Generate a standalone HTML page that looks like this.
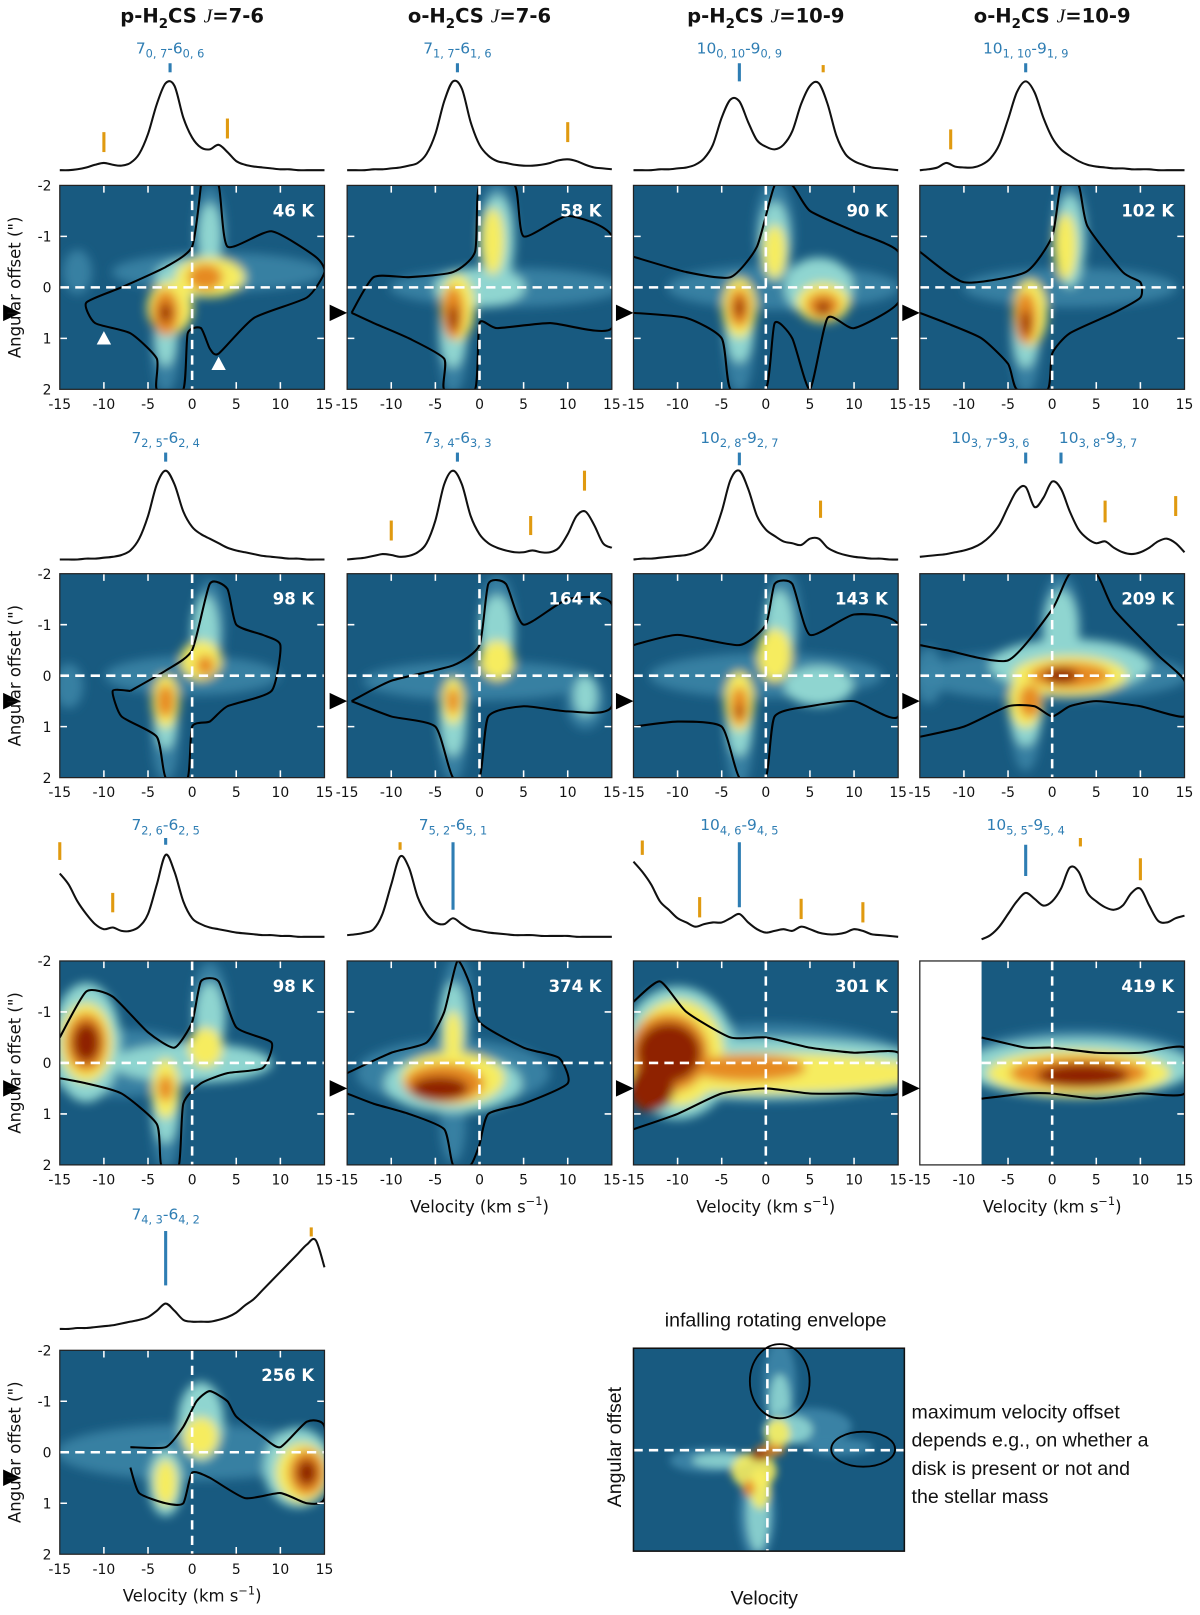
<!DOCTYPE html>
<html><head><meta charset="utf-8"><style>
html,body{margin:0;padding:0;background:#fff;}
svg{display:block;font-family:"DejaVu Sans","Liberation Sans",sans-serif;}
</style></head><body>
<svg id="fig" width="1200" height="1615" viewBox="0 0 1165 1568" xmlns="http://www.w3.org/2000/svg">
<defs>
<filter id="blur" x="-50%" y="-50%" width="200%" height="200%"><feGaussianBlur stdDeviation="5"/></filter>
<filter id="blur2" x="-50%" y="-50%" width="200%" height="200%"><feGaussianBlur stdDeviation="4"/></filter>
</defs>
<g id="root"></g>
</svg>
<script>
// ---------- data ----------
const colTitles = [["p-H","2","CS ","J","=7-6"],["o-H","2","CS ","J","=7-6"],["p-H","2","CS ","J","=10-9"],["o-H","2","CS ","J","=10-9"]];
const temps = ["46 K","58 K","90 K","102 K","98 K","164 K","143 K","209 K","98 K","374 K","301 K","419 K","256 K"];
const lineLabels = [
 [["7","0, 7","-6","0, 6"]],[["7","1, 7","-6","1, 6"]],[["10","0, 10","-9","0, 9"]],[["10","1, 10","-9","1, 9"]],
 [["7","2, 5","-6","2, 4"]],[["7","3, 4","-6","3, 3"]],[["10","2, 8","-9","2, 7"]],[["10","3, 7","-9","3, 6"],["10","3, 8","-9","3, 7"]],
 [["7","2, 6","-6","2, 5"]],[["7","5, 2","-6","5, 1"]],[["10","4, 6","-9","4, 5"]],[["10","5, 5","-9","5, 4"]],
 [["7","4, 3","-6","4, 2"]]
];
const labelVel = [[-2.5],[-2.5],[-3],[-3],[-3],[-2.5],[-3],[-7,5.2],[-3],[-3],[-3],[-3],[-3]];
const xTicks = [-15,-10,-5,0,5,10,15];
const yTicks = [-2,-1,0,1,2];
const specVel = [-15,-14,-13,-12,-11,-10,-9,-8,-7,-6,-5,-4,-3,-2,-1,0,1,2,3,4,5,6,7,8,9,10,11,12,13,14,15];
const spectra = [
 [.02,.02,.03,.05,.08,.1,.08,.07,.1,.2,.42,.75,.98,.95,.6,.38,.27,.25,.3,.22,.12,.08,.06,.05,.04,.03,.03,.02,.02,.02,.02],
 [.02,.02,.02,.03,.03,.04,.05,.07,.1,.2,.42,.78,1,.92,.55,.3,.18,.12,.1,.08,.07,.07,.08,.1,.13,.14,.12,.08,.05,.04,.03],
 [.02,.02,.02,.03,.03,.04,.05,.08,.15,.3,.6,.8,.78,.55,.35,.28,.25,.3,.45,.75,.95,.98,.75,.4,.2,.12,.08,.05,.04,.03,.02],
 [.02,.03,.05,.1,.06,.05,.05,.08,.15,.3,.58,.88,1,.88,.6,.38,.25,.18,.12,.08,.06,.05,.04,.04,.03,.03,.03,.02,.02,.02,.02],
 [.02,.02,.02,.03,.03,.04,.05,.07,.12,.25,.5,.85,1,.85,.55,.38,.3,.25,.2,.15,.12,.1,.08,.06,.05,.04,.03,.03,.02,.02,.02],
 [.02,.03,.04,.06,.08,.07,.05,.06,.1,.2,.45,.85,1,.85,.5,.3,.2,.15,.12,.1,.1,.12,.1,.1,.15,.3,.5,.55,.4,.2,.15],
 [.02,.03,.03,.04,.05,.06,.07,.1,.15,.28,.55,.9,1,.8,.5,.35,.28,.22,.2,.18,.25,.25,.15,.1,.07,.05,.04,.03,.03,.02,.02],
 [.05,.06,.07,.08,.1,.12,.15,.2,.28,.4,.6,.78,.82,.6,.7,.88,.8,.55,.35,.25,.2,.22,.15,.1,.08,.1,.15,.22,.25,.2,.1],
 [.78,.65,.45,.3,.18,.12,.14,.1,.1,.15,.3,.65,1,.8,.45,.25,.18,.14,.12,.1,.08,.07,.06,.05,.05,.04,.04,.03,.03,.03,.03],
 [.05,.06,.08,.12,.3,.65,.98,.85,.5,.3,.2,.18,.25,.18,.12,.1,.08,.07,.06,.05,.05,.05,.04,.04,.04,.04,.03,.03,.03,.03,.03],
 [.92,.8,.65,.45,.35,.25,.2,.15,.18,.2,.2,.25,.3,.2,.12,.08,.1,.12,.1,.15,.12,.08,.06,.06,.08,.12,.1,.06,.05,.04,.03],
 [null,null,null,null,null,null,null,.0,.05,.15,.3,.45,.55,.48,.4,.45,.6,.85,.8,.55,.45,.38,.35,.4,.55,.6,.4,.22,.2,.25,.28],
 [.02,.02,.03,.03,.04,.05,.06,.08,.1,.12,.15,.22,.3,.22,.12,.1,.1,.1,.12,.15,.2,.28,.35,.45,.55,.65,.75,.85,.95,1,.7]
];
const blueMarks = [
 [[-2.5,1.2,1.1]],[[-2.5,1.2,1.1]],[[-3,1.2,1.0]],[[-3,1.2,1.1]],
 [[-3,1.2,1.1]],[[-2.5,1.2,1.1]],[[-3,1.2,1.06]],[[-3,1.2,1.08],[1,1.2,1.08]],
 [[-3,1.2,1.12]],[[-3,1.15,0.35]],[[-3,1.15,0.38]],[[-3,1.12,0.75]],
 [[-3,1.1,0.5]]
];
const orangeMarks = [
 [[-10,0.44,0.22],[4,0.59,0.37]],[[10,0.55,0.33]],[[6.5,1.18,1.1]],[[-11.5,0.47,0.25]],
 [],[[-10,0.45,0.23],[5.8,0.5,0.29],[11.9,1.0,0.78]],[[6.2,0.67,0.48]],[[6,0.67,0.43],[14,0.72,0.5]],
 [[-15,1.15,0.94],[-9,0.55,0.32]],[[-9,1.15,1.06]],[[-14,1.17,1.0],[-7.5,0.5,0.26],[4,0.48,0.24],[11,0.44,0.2]],[[3.2,1.2,1.1],[10,0.96,0.7]],
 [[13.5,1.14,1.04]]
];
// heatmap blobs: [vel, offset, halfWidthVel, halfHeightOffset, level]
const blobs = [
 [[3,-0.3,11,0.35,0],[2,-1.1,1.6,0.8,0],[-3,1.2,1.4,0.8,0],[-13,-0.3,1.5,0.4,0],[1,-0.2,4,0.3,1],[2,-1,1,0.5,1],[-3,0.9,1,0.5,1],[-2.5,0.4,2,0.4,2],[2,-0.2,3,0.3,2],[-3,0.5,1.2,0.35,3],[1.5,-0.2,1.5,0.2,3],[-3,0.5,0.5,0.15,4]],
 [[3,0,12,0.35,0],[2,-1.2,1.8,0.8,0],[-3,1.1,1.5,0.9,0],[2,-0.9,1.5,0.7,1],[-3,0.8,1.2,0.6,1],[0,0,4,0.3,1],[1.5,-0.9,1,0.5,2],[-2.5,0.4,1.5,0.5,2],[-3,0.5,1,0.4,3],[-3,0.6,0.4,0.2,4]],
 [[2,0,12,0.4,0],[1,-1.1,2,0.9,0],[-3,1.1,1.5,0.9,0],[6,0,3,0.45,1],[1,-0.9,1.3,0.6,1],[-3,0.7,1.3,0.6,1],[-3,0.4,1.5,0.45,2],[6.5,0.3,2.3,0.3,2],[1,-0.7,1,0.4,2],[-3,0.4,1,0.3,3],[6.5,0.35,1.5,0.2,3],[-3,0.4,0.4,0.15,4],[6.5,0.4,0.6,0.1,4]],
 [[2,0,11,0.35,0],[2,-1.1,1.8,0.9,0],[-3,1.1,1.5,0.9,0],[2,-0.9,1.3,0.7,1],[-3,0.8,1.2,0.6,1],[1.5,-0.8,1,0.5,2],[-2.5,0.5,1.5,0.5,2],[-3,0.6,1,0.4,3],[-3,0.7,0.4,0.2,4]],
 [[0,0,9,0.35,0],[2,-1,1.6,0.8,0],[-3,1.2,1.4,0.8,0],[-14,0.2,1.5,0.4,0],[1.5,-0.8,1.2,0.6,1],[-3,0.8,1,0.5,1],[1,-0.3,1.8,0.3,2],[-3,0.5,1.2,0.4,2],[-3,0.5,0.8,0.25,3],[1.5,-0.2,0.8,0.15,3]],
 [[0,0.1,12,0.35,0],[2,-1.1,1.8,0.8,0],[-3,1.2,1.4,0.8,0],[12,0.5,2,0.5,0],[2,-0.8,1.5,0.6,1],[-3,0.8,1.2,0.6,1],[12,0.4,1,0.3,1],[2,-0.3,1.5,0.3,2],[-3,0.5,1,0.35,2],[-3,0.5,0.6,0.2,3]],
 [[0,0,12,0.4,0],[2,-1.1,1.8,0.9,0],[-3,1.2,1.4,0.9,0],[1.5,-0.9,1.3,0.6,1],[-3,0.8,1.2,0.6,1],[6,0.2,3,0.3,1],[1,-0.4,1.5,0.4,2],[-3,0.5,1.3,0.45,2],[-3,0.6,0.8,0.3,3],[-3,0.7,0.3,0.1,4]],
 [[0,0,14,0.45,0],[1,-1,2,0.9,0],[-3,1,1.5,0.8,0],[-14,0,1.5,0.5,0],[2,-0.2,7,0.4,1],[1,-0.9,1.5,0.6,1],[-3,0.6,1.5,0.6,1],[2,0,5,0.3,2],[-3,0.5,1.5,0.4,2],[2,0,3.5,0.2,3],[-2.5,0.5,1,0.25,3],[1,0,1.5,0.12,4]],
 [[-8,0,9,0.6,0],[2,-1.1,1.8,0.8,0],[-3,1.2,1.4,0.8,0],[-12,-0.4,3,0.9,1],[2,-0.8,1.3,0.6,1],[-3,0.8,1.2,0.6,1],[0,0,7,0.3,1],[-12,-0.4,2.3,0.6,2],[1.5,-0.3,1.5,0.3,2],[-3,0.5,1.2,0.45,2],[-12,-0.4,1.8,0.45,3],[-12,-0.4,1.2,0.3,4],[-3,0.5,0.7,0.2,3]],
 [[-3,0.2,10,0.6,0],[-2.5,-1.1,1.6,0.9,0],[-3,1.2,1.3,0.7,0],[-3,-0.8,1.2,0.6,1],[-3,0.4,6,0.45,1],[-3,0.3,4.5,0.4,2],[-3,-0.5,0.8,0.4,2],[-4,0.4,3.5,0.3,3],[-4.5,0.5,2.5,0.18,4]],
 [[0,0,15,0.7,0],[-10,-0.2,5,1,1],[0,0.1,15,0.45,1],[-10,-0.2,4,0.8,2],[0,0.2,14,0.3,2],[-11,-0.2,3.5,0.6,3],[-2,0.1,5,0.2,3],[-11,-0.2,2.8,0.45,4],[-13,0.5,2,0.35,4]],
 [[3,0,12,0.6,0],[3,0.1,10,0.45,1],[3,0.2,8,0.35,2],[3,0.2,6,0.25,3],[3.5,0.25,4,0.18,4]],
 [[0,0,14,0.5,0],[1,-0.6,2,0.6,1],[-3,0.6,1.5,0.5,1],[12,0.3,3,0.6,1],[1,-0.3,1.5,0.3,2],[-3,0.6,1,0.35,2],[12.5,0.4,2.3,0.45,2],[13,0.4,1.6,0.35,3],[13,0.4,0.9,0.2,4]]
];
const contours = [
 [[1,-2],[3,-2],[4,-0.8],[9,-1.1],[14,-0.6],[15,-0.3],[13,0.2],[7,0.6],[3,1.3],[2,1.2],[1,0.8],[-0.5,0.9],[-1,2],[-4,2],[-4,1.4],[-7,0.9],[-11,0.7],[-12,0.3],[-8,0],[-3,-0.4],[0,-0.8],[1,-2]],
 [[-14.5,0.5],[-12,-0.2],[-8,-0.2],[-3,-0.3],[-0.5,-0.7],[0,-2],[4,-2],[5,-1],[10,-1.4],[15,-1.0],[15,0.8],[8,0.7],[2,0.8],[0,0.7],[-0.5,2],[-4,2],[-4,1.4],[-8,1],[-12,0.7],[-14.5,0.5]],
 [[-15,-0.6],[-9,-0.3],[-4,-0.2],[-1,-0.8],[1,-2],[3,-2],[5,-1.5],[10,-1.1],[15,-0.7],[15,0.3],[10,0.8],[7,0.6],[5,2],[3,1],[1,0.7],[0,2],[-4,2],[-5,1],[-9,0.6],[-15,0.5]],
 [[-15,-0.7],[-10,-0.1],[-3,-0.3],[0,-1],[1,-2],[3,-2],[4,-1.2],[8,-0.3],[10,-0.1],[10,0.2],[7,0.5],[2,0.9],[0,1.3],[-0.5,2],[-4,2],[-5,1.5],[-8,1],[-12,0.7],[-15,0.5]],
 [[-7,0.3],[-3,-0.1],[0,-0.5],[2,-1.8],[4,-1.7],[5,-1],[8,-0.8],[10,-0.6],[9,0.3],[4,0.6],[2,0.9],[0,1],[-0.5,2],[-3,2],[-4,1.2],[-8,0.8],[-9,0.3],[-7,0.3]],
 [[-14.5,0.5],[-10,0.1],[-3,-0.2],[0,-0.6],[1,-1.8],[3,-1.8],[5,-1],[10,-1.5],[15,-1.4],[15,0.6],[10,0.7],[5,0.6],[1,0.8],[0,2],[-3,2],[-5,1],[-10,0.8],[-14.5,0.5]],
 [[-15,-0.6],[-10,-0.8],[-3,-0.6],[0,-1],[1,-1.8],[3,-1.8],[5,-0.8],[10,-1.2],[15,-1.0],[15,0.8],[10,0.5],[5,0.6],[1,0.8],[0,2],[-3,2],[-5,1],[-10,0.9],[-15,1.0]],
 [[-15,-0.6],[-12,-0.5],[-5,-0.3],[0,-1.3],[2,-2],[5,-2],[7,-1.3],[12,-0.4],[15,0.1],[15,0.8],[10,0.6],[5,0.5],[2,0.6],[0,0.8],[-2,0.6],[-5,0.6],[-10,1.0],[-15,1.2]],
 [[-15,-0.5],[-12,-1.4],[-9,-1.3],[-5,-0.6],[-2,-0.3],[0,-0.8],[1,-1.6],[3,-1.6],[5,-0.7],[9,-0.4],[8,0.1],[4,0.2],[1,0.4],[-1,0.8],[-1.5,2],[-3.5,2],[-4,1.2],[-8,0.6],[-12,0.4],[-15,0.3]],
 [[-15,0.2],[-10,-0.2],[-6,-0.4],[-4,-1],[-2.5,-2],[-1,-1.5],[0,-0.8],[5,-0.3],[9,-0.1],[10,0.4],[5,0.8],[1,1],[0,1.6],[-1,2],[-3,2],[-4,1.3],[-8,1],[-12,0.8],[-15,0.6]],
 [[-15,-1.2],[-12,-1.6],[-9,-1.0],[-4,-0.5],[0,-0.5],[5,-0.3],[10,-0.2],[15,-0.2],[15,0.6],[10,0.6],[5,0.6],[0,0.5],[-5,0.6],[-10,1.0],[-15,1.3]],
 [[-8,-0.5],[-3,-0.3],[0,-0.3],[5,-0.2],[10,-0.2],[15,-0.3],[15,0.6],[10,0.6],[5,0.7],[0,0.6],[-3,0.6],[-8,0.7]],
 [[-7,-0.1],[-3,-0.1],[-1,-0.5],[0.5,-1.0],[2,-1.2],[4,-1.0],[5,-0.7],[8,-0.3],[10,-0.1],[13,-0.6],[15,-0.5],[15,0.9],[13,1.0],[10,0.8],[6,0.9],[2,0.5],[0,0.4],[-1,1.0],[-3,1.0],[-6,0.8],[-7,0.3]]
];
const whiteTris = [[-10,1.0],[3,1.5]];
const colorLevels = ['#3d86a8','#8fd5d0','#f6ec5e','#e68a22','#8f2400'];

// ---------- layout ----------
const NS='http://www.w3.org/2000/svg';
const root=document.getElementById('root');
const colX=[58,337,615,893], W=257, H=198;
const rowY=[180,557,933,1311];
const specBase=[167,545,912,1292], specH=[88,88,82,88];
const labelY=[52,430,806,1184];
function el(tag,attrs,parent){const e=document.createElementNS(NS,tag);for(const k in attrs)e.setAttribute(k,attrs[k]);(parent||root).appendChild(e);return e;}
function xs(x0,v){return x0+(v+15)/30*W;}
function ys(y0,o){return y0+(o+2)/4*H;}

colTitles.forEach((t,i)=>{
 const tx=el('text',{x:colX[i]+W/2,y:22,'text-anchor':'middle','font-size':19,'font-weight':'bold',fill:'#111'});
 
 
 tx.innerHTML=`${t[0]}<tspan font-size="13" dy="5">${t[1]}</tspan><tspan dy="-5">${t[2]}</tspan><tspan font-style="italic" font-weight="normal" font-family="Liberation Serif, serif">${t[3]}</tspan><tspan>${t[4]}</tspan>`;
});

function smoothPath(pts,k){
 k=k||6;
 let d='M'+pts[0][0]+','+pts[0][1];
 for(let i=0;i<pts.length-1;i++){
  const p0=pts[i-1]||pts[i],p1=pts[i],p2=pts[i+1],p3=pts[i+2]||p2;
  const c1=[p1[0]+(p2[0]-p0[0])/k,p1[1]+(p2[1]-p0[1])/k],c2=[p2[0]-(p3[0]-p1[0])/k,p2[1]-(p3[1]-p1[1])/k];
  d+=` C${c1[0]},${c1[1]} ${c2[0]},${c2[1]} ${p2[0]},${p2[1]}`;
 }
 return d;
}

for(let p=0;p<13;p++){
 const r=Math.floor(p/4), c=p%4, x0=colX[c], y0=rowY[r];
 const g=el('g',{});
 
 
 lineLabels[p].forEach((L,k)=>{
  const t=el('text',{x:xs(x0,labelVel[p][k]),y:labelY[r],'text-anchor':'middle','font-size':15,fill:'#2e7db3'},g);
  
  
  t.innerHTML=`${L[0]}<tspan font-size="11" dy="4">${L[1]}</tspan><tspan dy="-4">${L[2]}</tspan><tspan font-size="11" dy="4">${L[3]}</tspan>`;
 });
 const sp=[];spectra[p].forEach((v,i)=>{if(v!==null)sp.push([xs(x0,specVel[i]),specBase[r]-v*specH[r]]);});
 const sl=el('path',{d:smoothPath(sp),fill:'none',stroke:'#111','stroke-width':2},g);
 
 
 blueMarks[p].forEach(m=>{
  const ln=el('line',{x1:xs(x0,m[0]),x2:xs(x0,m[0]),y1:specBase[r]-m[1]*specH[r],y2:specBase[r]-m[2]*specH[r],stroke:'#2e7db3','stroke-width':3},g);
  
  
 });
 orangeMarks[p].forEach(m=>{
  const ln=el('line',{x1:xs(x0,m[0]),x2:xs(x0,m[0]),y1:specBase[r]-m[1]*specH[r],y2:specBase[r]-m[2]*specH[r],stroke:'#e09a10','stroke-width':3},g);
  
  
 });
 const cpth=el('clipPath',{id:'clip'+p},g);
 el('rect',{x:x0,y:y0,width:W,height:H},cpth);
 const hm=el('g',{'clip-path':`url(#clip${p})`},g);
 
 
 el('rect',{x:x0,y:y0,width:W,height:H,fill:'#185a80'},hm);
 const bg=el('g',{filter:'url(#blur)'},hm);
 blobs[p].forEach(b=>{
  const s=b[4]===0?1.1:1.3;
  const e=el('ellipse',{cx:xs(x0,b[0]),cy:ys(y0,b[1]),rx:s*b[2]/30*W,ry:s*b[3]/4*H,fill:colorLevels[b[4]],opacity:b[4]==0?0.85:1},bg);
  
  
 });
 if(p===11){el('rect',{x:x0-2,y:y0-2,width:xs(x0,-8)-x0+2,height:H+4,fill:'#fff'},hm);}
 const cp=contours[p].map(q=>[xs(x0,q[0]),ys(y0,q[1])]);
 const ct=el('path',{d:smoothPath(cp,10),fill:'none',stroke:'#000','stroke-width':2,'stroke-linejoin':'round'},hm);
 
 
 el('line',{x1:xs(x0,0),x2:xs(x0,0),y1:y0,y2:y0+H,stroke:'#fff','stroke-width':2.5,'stroke-dasharray':'9,6'},hm);
 el('line',{x1:x0,x2:x0+W,y1:ys(y0,0),y2:ys(y0,0),stroke:'#fff','stroke-width':2.5,'stroke-dasharray':'9,6'},hm);
 [-10,-5,5,10].forEach(v=>{el('line',{x1:xs(x0,v),x2:xs(x0,v),y1:y0,y2:y0+7,stroke:'#fff','stroke-width':1.5},hm);el('line',{x1:xs(x0,v),x2:xs(x0,v),y1:y0+H,y2:y0+H-7,stroke:'#fff','stroke-width':1.5},hm);});
 [-1,1].forEach(o=>{el('line',{x1:x0,x2:x0+7,y1:ys(y0,o),y2:ys(y0,o),stroke:'#fff','stroke-width':1.5},hm);el('line',{x1:x0+W,x2:x0+W-7,y1:ys(y0,o),y2:ys(y0,o),stroke:'#fff','stroke-width':1.5},hm);});
 if(p===0){whiteTris.forEach(t=>{const X=xs(x0,t[0]),Y=ys(y0,t[1]);el('polygon',{points:`${X-7},${Y+6} ${X+7},${Y+6} ${X},${Y-7}`,fill:'#fff'},hm);});}
 el('rect',{x:x0,y:y0,width:W,height:H,fill:'none',stroke:'#222','stroke-width':1.2},g);
 const tk=el('text',{x:x0+W-10,y:y0+30,'text-anchor':'end','font-size':16,'font-weight':'bold',fill:'#fff'},g);
 tk.textContent=temps[p];
 
 
 xTicks.forEach(v=>{const t=el('text',{x:xs(x0,v),y:y0+H+19,'text-anchor':'middle','font-size':13.5,fill:'#111'},g);t.textContent=v;});
 const tx1=c===0?3:x0-17, yt=ys(y0,0.5);
 const tri=el('polygon',{points:`${tx1},${yt-8} ${tx1+17},${yt} ${tx1},${yt+8}`,fill:'#000'},g);
 
 
 if(c===0){
  yTicks.forEach(o=>{const t=el('text',{x:x0-8,y:ys(y0,o)+5,'text-anchor':'end','font-size':13.5,fill:'#111'},g);t.textContent=o;});
  const yl=el('text',{x:0,y:0,transform:`translate(20,${y0+H/2}) rotate(-90)`,'text-anchor':'middle','font-size':16,fill:'#111'},g);
  yl.textContent='Angular offset (")';
  
  
 }
 if(r===3||(r===2&&c>0)){
  const xl=el('text',{x:x0+W/2,y:y0+H+46,'text-anchor':'middle','font-size':16,fill:'#111'},g);
  xl.innerHTML='Velocity (km s<tspan font-size="11" dy="-7">−1</tspan><tspan dy="7">)</tspan>';
  
  
 }
}

// ---------- schematic ----------
const sx0=615, sy0=1309, sW=263, sH=197;
const sg=el('g',{});


const scp=el('clipPath',{id:'sclip'},sg);
el('rect',{x:sx0,y:sy0,width:sW,height:sH},scp);
const sh=el('g',{'clip-path':'url(#sclip)'},sg);
el('rect',{x:sx0,y:sy0,width:sW,height:sH,fill:'#185a80'},sh);
const sb=el('g',{filter:'url(#blur2)'},sh);
[[757,1345,16,45,0],[757,1362,10,28,1],[735,1470,18,45,0],[736,1468,11,38,1],[785,1385,42,18,0],[815,1405,32,8,0],[690,1418,40,12,0],[700,1418,28,7,1],[765,1388,24,14,1],[755,1392,12,14,2],[732,1428,22,18,2],[738,1445,10,20,2],[748,1408,14,6,3],[738,1413,10,5,4],[727,1445,6,8,3]].forEach(b=>{
 el('ellipse',{cx:b[0],cy:b[1],rx:b[2],ry:b[3],fill:colorLevels[b[4]],opacity:0.9},sb);
});
el('line',{x1:745,x2:745,y1:sy0,y2:sy0+sH,stroke:'#fff','stroke-width':2.5,'stroke-dasharray':'9,6'},sh);
el('line',{x1:sx0,x2:sx0+sW,y1:1408,y2:1408,stroke:'#fff','stroke-width':2.5,'stroke-dasharray':'9,6'},sh);
el('rect',{x:sx0,y:sy0,width:sW,height:sH,fill:'none',stroke:'#111','stroke-width':1.5},sg);
el('ellipse',{cx:757,cy:1341,rx:29,ry:36,fill:'none',stroke:'#000','stroke-width':1.8},sg);
el('ellipse',{cx:838,cy:1407,rx:31,ry:17,fill:'none',stroke:'#000','stroke-width':1.8},sg);
const a1=el('text',{x:753,y:1288,'text-anchor':'middle','font-size':19,fill:'#111','font-family':'Liberation Sans, sans-serif'},sg);a1.textContent='infalling rotating envelope';


['maximum velocity offset','depends e.g., on whether a','disk is present or not and','the stellar mass'].forEach((s,i)=>{
 const t=el('text',{x:885,y:1377+i*27.5,'font-size':19,fill:'#111','font-family':'Liberation Sans, sans-serif'},sg);t.textContent=s;
 
 
});
const sa=el('text',{x:0,y:0,transform:'translate(603,1405) rotate(-90)','text-anchor':'middle','font-size':19,fill:'#111','font-family':'Liberation Sans, sans-serif'},sg);sa.textContent='Angular offset';


const sv=el('text',{x:742,y:1558,'text-anchor':'middle','font-size':19,fill:'#111','font-family':'Liberation Sans, sans-serif'},sg);sv.textContent='Velocity';


</script>
</body></html>
